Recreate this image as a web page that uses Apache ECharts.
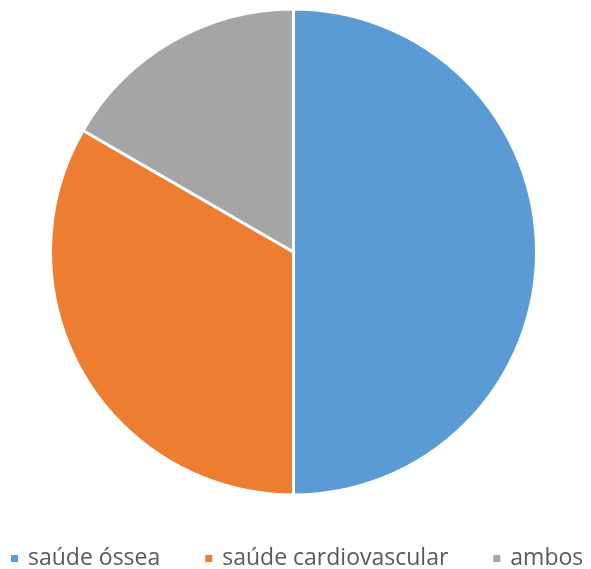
<!DOCTYPE html>
<html><head><meta charset="utf-8">
<script src="https://cdn.jsdelivr.net/npm/echarts@6/dist/echarts.min.js"></script>
<style>html,body{margin:0;padding:0;background:#fff}#c{width:591px;height:569px}</style>
</head><body><div id="c"></div>
<script>
const categories = ["saúde óssea", "saúde cardiovascular", "ambos"];
const values = [3, 2, 1];
const colors = ["#5B9BD5", "#ED7D31", "#A5A5A5"];

const chart = echarts.init(document.getElementById('c'), null, {renderer: 'canvas'});
chart.setOption({
  animation: false,
  color: colors,
  legend: {
    data: categories,
    left: 9,
    top: 547,
    padding: 0,
    icon: 'rect',
    itemWidth: 9,
    itemHeight: 9,
    itemGap: 43,
    textStyle: {fontFamily: 'Open Sans', fontSize: 23, color: '#595959', padding: [0,0,0,4]}
  },
  series: [{
    type: 'pie',
    center: [293.5, 252],
    radius: [0, 243],
    startAngle: 90,
    clockwise: true,
    label: {show: false},
    labelLine: {show: false},
    itemStyle: {borderColor: '#fff', borderWidth: 3},
    emphasis: {disabled: true},
    data: categories.map((n, i) => ({name: n, value: values[i]}))
  }]
});
</script></body></html>
